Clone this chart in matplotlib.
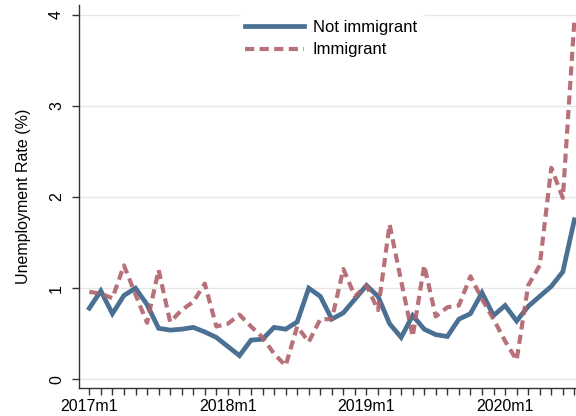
import matplotlib
matplotlib.use("Agg")
import matplotlib.pyplot as plt
import numpy as np

plt.rcParams['font.family'] = ['Liberation Sans', 'DejaVu Sans']

# Monthly unemployment rates, 2017m1 .. 2020m7
months = np.arange(43)
tick_pos = [0, 12, 24, 36]
tick_labels = ["2017m1", "2018m1", "2019m1", "2020m1"]

not_immigrant = [0.78, 0.97, 0.72, 0.92, 1.00, 0.82, 0.56, 0.54, 0.55, 0.57,
                 0.52, 0.46, 0.36, 0.26, 0.43, 0.44, 0.57, 0.55, 0.63, 1.00,
                 0.91, 0.66, 0.73, 0.88, 1.03, 0.91, 0.61, 0.46, 0.70, 0.55,
                 0.49, 0.47, 0.66, 0.72, 0.95, 0.70, 0.81, 0.64, 0.80, 0.91,
                 1.02, 1.18, 1.75]
immigrant = [0.96, 0.94, 0.89, 1.25, 0.93, 0.62, 1.20, 0.63, 0.76, 0.85,
             1.05, 0.58, 0.61, 0.71, 0.58, 0.46, 0.28, 0.15, 0.58, 0.41,
             0.66, 0.66, 1.21, 0.91, 1.03, 0.76, 1.70, 1.08, 0.47, 1.25,
             0.69, 0.79, 0.81, 1.13, 0.88, 0.66, 0.42, 0.21, 1.03, 1.25,
             2.32, 1.99, 3.94]

blue = "#4A7093"
red = "#B0626A"

fig = plt.figure(figsize=(5.76, 4.16), dpi=100)
ax = fig.add_axes([79.3 / 576, 28 / 416, (576 - 79.3) / 576, 383 / 416])

ax.plot(months, not_immigrant, color=blue, lw=3.4, solid_joinstyle="miter",
        label="Not immigrant", zorder=3)
ax.plot(months, immigrant, color=red, lw=3.0, alpha=0.9, dashes=(2.2, 1.3),
        dash_capstyle="butt", label="Immigrant", zorder=4)

ax.set_xlim(-0.866, 42.14)
ax.set_ylim(-0.095, 4.106)

ax.set_yticks([0, 1, 2, 3, 4])
ax.set_yticklabels(["0", "1", "2", "3", "4"], rotation=90, va="center")
ax.set_xticks(tick_pos)
ax.set_xticklabels(tick_labels)
ax.set_xticks(months, minor=True)
ax.tick_params(axis="both", which="major", length=5, width=1, labelsize=11.5,
               color="#333333")
ax.tick_params(axis="y", which="major", pad=6)
ax.tick_params(axis="x", which="major", pad=3)
ax.tick_params(axis="x", which="minor", length=5, width=1, color="#333333")

ax.grid(axis="y", color="#E6E6E6", lw=1)
ax.set_axisbelow(True)
for s in ["top", "right"]:
    ax.spines[s].set_visible(False)
for s in ["left", "bottom"]:
    ax.spines[s].set_color("#333333")
    ax.spines[s].set_linewidth(1)

ax.set_ylabel("Unemployment Rate (%)", fontsize=11.5, labelpad=13)

leg = ax.legend(loc="upper center", bbox_to_anchor=(0.507, 1.0), frameon=True,
                fontsize=12, handlelength=3.5, handletextpad=0.55,
                labelspacing=0.45, borderpad=0.4)
leg.get_frame().set_edgecolor("white")
leg.get_frame().set_facecolor("white")
leg.get_frame().set_alpha(1)

fig.savefig("out.png", dpi=100)
